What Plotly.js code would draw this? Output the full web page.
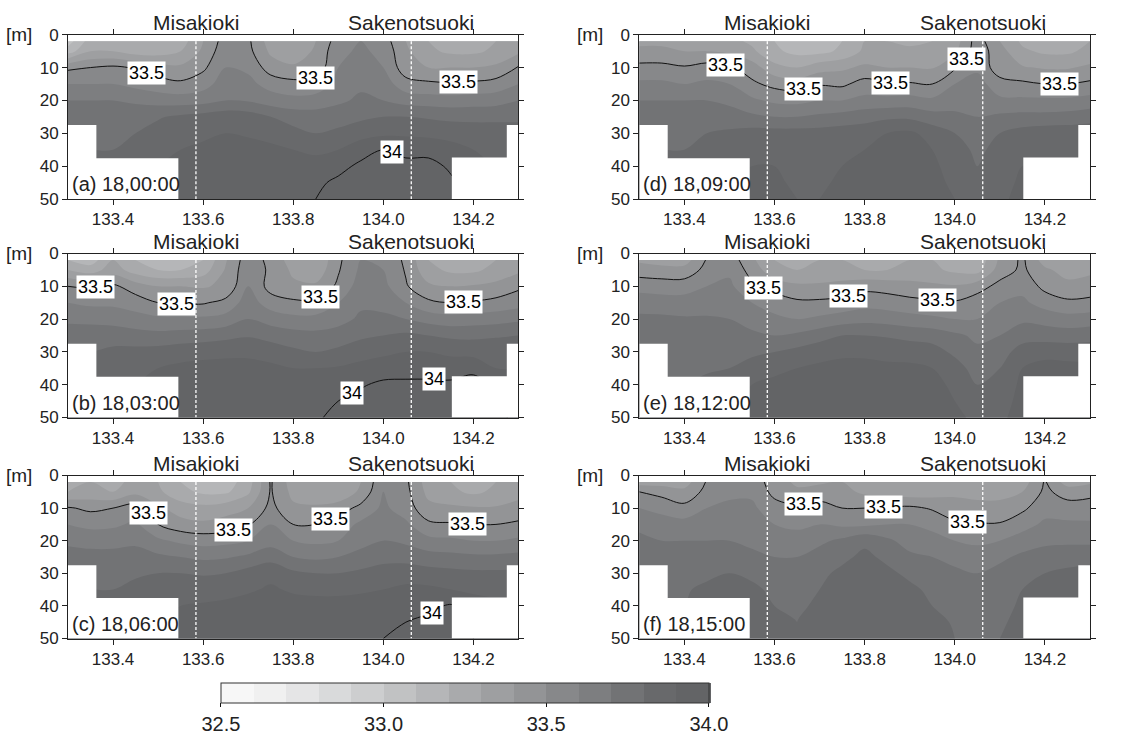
<!DOCTYPE html>
<html><head><meta charset="utf-8">
<script src="https://cdn.plot.ly/plotly-3.0.1.min.js"></script>
<style>html,body{margin:0;padding:0;background:#fff}#chart{width:1138px;height:738px}</style>
</head><body><div id="chart"></div>
<script>
// ---- data ----
const lon = [133.30,133.35,133.40,133.45,133.50,133.55,133.60,133.65,133.70,133.75,133.80,133.85,133.90,133.95,134.00,134.05,134.10,134.15,134.20,134.25,134.30];
const depth = [2,5,10,15,20,25,30,35,40,45,50];
const xTicks = [133.4,133.6,133.8,134.0,134.2];
const yTicks = [0,10,20,30,40,50];
const colorTicks = [32.5,33.0,33.5,34.0];
const stationNames = ['Misakioki','Sakenotsuoki'];
const stationLon = [133.584, 134.062];
const bathyLon = [133.30,133.363,133.363,133.545,133.545,134.152,134.152,134.274,134.274,134.30];
const bathyDepth = [27.5,27.5,37.6,37.6,50,50,37.4,37.4,27.5,27.5];
const panelLabels = ['(a) 18,00:00','(b) 18,03:00','(c) 18,06:00','(d) 18,09:00','(e) 18,12:00','(f) 18,15:00'];
const lineLevels = [33.5, 34.0];

const salA = [
[33.05,33.25,33.25,33.2,33.2,33.25,33.4,33.55,33.52,33.35,33.3,33.4,33.55,33.6,33.55,33.4,33.3,33.25,33.25,33.3,33.35],
[33.15,33.3,33.3,33.25,33.25,33.3,33.42,33.57,33.53,33.38,33.32,33.42,33.57,33.62,33.57,33.42,33.32,33.28,33.28,33.32,33.38],
[33.48,33.5,33.52,33.49,33.45,33.42,33.48,33.6,33.58,33.45,33.42,33.43,33.6,33.65,33.6,33.44,33.4,33.4,33.4,33.42,33.51],
[33.6,33.6,33.6,33.57,33.54,33.52,33.56,33.65,33.63,33.56,33.53,33.54,33.63,33.68,33.65,33.54,33.52,33.51,33.52,33.54,33.6],
[33.7,33.7,33.7,33.68,33.66,33.65,33.66,33.7,33.69,33.65,33.63,33.64,33.68,33.72,33.7,33.66,33.65,33.64,33.65,33.66,33.7],
[33.76,33.76,33.76,33.77,33.79,33.82,33.84,33.86,33.85,33.8,33.76,33.75,33.76,33.78,33.8,33.8,33.79,33.78,33.78,33.78,33.78],
[33.78,33.78,33.78,33.8,33.84,33.87,33.88,33.9,33.89,33.87,33.83,33.8,33.82,33.86,33.88,33.88,33.87,33.85,33.84,33.84,33.84],
[33.8,33.8,33.8,33.84,33.88,33.9,33.92,33.93,33.93,33.92,33.9,33.88,33.9,33.96,34.0,33.98,33.98,33.95,33.9,33.88,33.88],
[33.82,33.82,33.84,33.88,33.9,33.92,33.93,33.94,33.94,33.94,33.93,33.94,33.97,34.02,34.05,34.02,34.02,33.99,33.95,33.9,33.9],
[33.84,33.84,33.86,33.9,33.92,33.93,33.94,33.95,33.95,33.96,33.96,33.98,34.02,34.06,34.08,34.06,34.04,34.01,33.97,33.92,33.92],
[33.85,33.85,33.88,33.9,33.92,33.94,33.95,33.96,33.96,33.97,33.98,34.0,34.04,34.08,34.1,34.08,34.06,34.03,33.98,33.93,33.93]];

const salB = [
[33.2,33.15,33.3,33.2,33.15,33.15,33.2,33.39,33.56,33.47,33.35,33.3,33.48,33.6,33.58,33.48,33.3,33.25,33.25,33.3,33.35],
[33.3,33.25,33.35,33.25,33.2,33.2,33.25,33.41,33.57,33.48,33.38,33.33,33.49,33.62,33.6,33.49,33.33,33.28,33.28,33.33,33.38],
[33.5,33.49,33.52,33.45,33.4,33.4,33.39,33.42,33.6,33.46,33.42,33.42,33.52,33.65,33.63,33.51,33.42,33.4,33.41,33.43,33.48],
[33.6,33.58,33.58,33.55,33.5,33.49,33.49,33.53,33.65,33.55,33.52,33.52,33.6,33.68,33.67,33.6,33.52,33.5,33.51,33.53,33.56],
[33.68,33.67,33.66,33.64,33.62,33.62,33.62,33.64,33.7,33.66,33.63,33.63,33.66,33.72,33.72,33.7,33.66,33.64,33.65,33.66,33.68],
[33.75,33.76,33.76,33.74,33.73,33.74,33.75,33.77,33.79,33.76,33.74,33.73,33.75,33.78,33.8,33.82,33.8,33.78,33.78,33.79,33.8],
[33.8,33.8,33.82,33.83,33.84,33.86,33.87,33.88,33.88,33.86,33.82,33.8,33.82,33.86,33.88,33.9,33.9,33.88,33.86,33.86,33.86],
[33.82,33.82,33.85,33.88,33.9,33.92,33.93,33.93,33.93,33.92,33.9,33.9,33.91,33.93,33.95,33.96,33.96,33.95,33.98,33.9,33.9],
[33.85,33.86,33.88,33.9,33.92,33.93,33.94,33.94,33.94,33.94,33.94,33.95,33.97,33.99,34.02,34.02,34.02,34.02,34.03,33.98,33.95],
[33.87,33.88,33.9,33.92,33.93,33.94,33.95,33.95,33.96,33.96,33.96,33.97,34.0,34.03,34.05,34.05,34.05,34.05,34.05,34.0,33.97],
[33.88,33.89,33.9,33.92,33.94,33.95,33.96,33.96,33.97,33.97,33.98,33.99,34.02,34.05,34.07,34.07,34.07,34.06,34.06,34.02,33.98]];

const salC = [
[33.25,33.3,33.25,33.35,33.3,33.2,33.15,33.15,33.25,33.51,33.35,33.3,33.3,33.4,33.58,33.52,33.35,33.3,33.25,33.3,33.35],
[33.3,33.33,33.3,33.37,33.32,33.23,33.18,33.18,33.28,33.51,33.37,33.32,33.32,33.42,33.6,33.53,33.37,33.32,33.28,33.32,33.37],
[33.51,33.48,33.5,33.55,33.42,33.35,33.33,33.36,33.4,33.53,33.42,33.42,33.45,33.53,33.62,33.55,33.43,33.42,33.41,33.41,33.43],
[33.6,33.57,33.58,33.62,33.5,33.44,33.42,33.44,33.49,33.6,33.5,33.5,33.55,33.62,33.66,33.62,33.52,33.51,33.5,33.5,33.52],
[33.68,33.67,33.67,33.68,33.62,33.58,33.56,33.57,33.6,33.66,33.6,33.58,33.6,33.66,33.7,33.68,33.63,33.62,33.6,33.6,33.62],
[33.74,33.73,33.73,33.74,33.72,33.7,33.68,33.69,33.72,33.76,33.7,33.68,33.7,33.74,33.77,33.76,33.74,33.73,33.72,33.72,33.73],
[33.78,33.78,33.78,33.79,33.8,33.8,33.79,33.8,33.84,33.88,33.82,33.8,33.8,33.82,33.84,33.86,33.84,33.83,33.82,33.82,33.82],
[33.8,33.8,33.8,33.82,33.85,33.86,33.86,33.87,33.89,33.91,33.89,33.88,33.88,33.89,33.9,33.92,33.92,33.9,33.88,33.88,33.88],
[33.82,33.82,33.83,33.85,33.88,33.9,33.91,33.92,33.93,33.93,33.93,33.93,33.93,33.93,33.94,33.96,33.98,34.01,33.95,33.92,33.92],
[33.84,33.84,33.85,33.88,33.9,33.92,33.93,33.94,33.95,33.95,33.95,33.95,33.95,33.96,33.97,34.0,34.02,34.03,33.98,33.94,33.94],
[33.85,33.85,33.87,33.9,33.92,33.93,33.94,33.95,33.96,33.96,33.96,33.96,33.97,33.98,34.0,34.03,34.04,34.05,34.0,33.95,33.95]];

const salD = [
[33.38,33.38,33.36,33.36,33.33,33.28,33.2,33.15,33.15,33.2,33.3,33.3,33.28,33.3,33.35,33.55,33.4,33.28,33.25,33.25,33.3],
[33.42,33.42,33.4,33.4,33.38,33.32,33.22,33.17,33.17,33.22,33.32,33.33,33.32,33.33,33.38,33.56,33.44,33.32,33.28,33.28,33.33],
[33.53,33.53,33.51,33.54,33.52,33.45,33.33,33.3,33.36,33.38,33.42,33.4,33.4,33.39,33.49,33.58,33.44,33.41,33.39,33.39,33.42],
[33.62,33.62,33.6,33.62,33.6,33.52,33.47,33.45,33.49,33.48,33.54,33.51,33.51,33.5,33.6,33.64,33.54,33.52,33.5,33.5,33.52],
[33.7,33.7,33.7,33.7,33.68,33.62,33.58,33.57,33.6,33.6,33.63,33.63,33.64,33.62,33.66,33.66,33.62,33.62,33.62,33.62,33.64],
[33.76,33.76,33.76,33.76,33.74,33.72,33.7,33.7,33.72,33.74,33.76,33.78,33.78,33.74,33.72,33.7,33.72,33.73,33.73,33.74,33.76],
[33.78,33.78,33.79,33.8,33.82,33.84,33.84,33.84,33.84,33.85,33.86,33.9,33.92,33.86,33.8,33.76,33.8,33.84,33.86,33.86,33.86],
[33.8,33.8,33.8,33.83,33.86,33.87,33.87,33.86,33.87,33.88,33.9,33.94,33.95,33.9,33.84,33.78,33.83,33.88,33.88,33.88,33.88],
[33.81,33.81,33.82,33.85,33.88,33.9,33.9,33.88,33.88,33.9,33.93,33.95,33.96,33.92,33.86,33.8,33.84,33.9,33.9,33.9,33.9],
[33.82,33.82,33.84,33.87,33.9,33.92,33.91,33.89,33.89,33.91,33.94,33.96,33.96,33.93,33.88,33.83,33.86,33.92,33.92,33.92,33.92],
[33.83,33.83,33.85,33.88,33.91,33.93,33.92,33.9,33.9,33.92,33.95,33.97,33.97,33.94,33.9,33.85,33.88,33.93,33.93,33.93,33.93]];

const salE = [
[33.38,33.35,33.35,33.51,33.56,33.42,33.3,33.28,33.3,33.3,33.28,33.28,33.3,33.3,33.25,33.22,33.42,33.52,33.35,33.32,33.35],
[33.45,33.44,33.44,33.53,33.58,33.46,33.33,33.3,33.32,33.32,33.3,33.3,33.32,33.32,33.28,33.26,33.45,33.52,33.42,33.36,33.38],
[33.56,33.55,33.55,33.6,33.62,33.52,33.46,33.42,33.42,33.44,33.47,33.46,33.44,33.42,33.41,33.46,33.53,33.57,33.47,33.43,33.44],
[33.66,33.65,33.65,33.66,33.67,33.6,33.56,33.52,33.52,33.53,33.56,33.55,33.53,33.52,33.51,33.55,33.6,33.62,33.56,33.52,33.53],
[33.72,33.72,33.71,33.71,33.7,33.66,33.62,33.6,33.62,33.65,33.67,33.66,33.64,33.62,33.6,33.6,33.64,33.68,33.66,33.64,33.65],
[33.76,33.76,33.75,33.74,33.73,33.72,33.7,33.72,33.76,33.8,33.8,33.79,33.77,33.76,33.72,33.68,33.7,33.76,33.76,33.75,33.76],
[33.78,33.78,33.78,33.77,33.76,33.78,33.8,33.83,33.86,33.88,33.88,33.87,33.86,33.84,33.78,33.72,33.76,33.84,33.86,33.86,33.86],
[33.79,33.79,33.79,33.79,33.8,33.84,33.88,33.9,33.92,33.93,33.93,33.92,33.92,33.9,33.84,33.76,33.8,33.9,33.94,33.93,33.92],
[33.8,33.8,33.8,33.82,33.85,33.9,33.92,33.93,33.95,33.96,33.96,33.96,33.95,33.93,33.88,33.8,33.84,33.92,33.95,33.94,33.93],
[33.81,33.81,33.82,33.85,33.88,33.92,33.94,33.95,33.96,33.97,33.97,33.97,33.96,33.95,33.9,33.85,33.86,33.93,33.95,33.95,33.94],
[33.82,33.82,33.84,33.87,33.9,33.93,33.95,33.96,33.97,33.98,33.98,33.98,33.97,33.96,33.92,33.88,33.88,33.94,33.96,33.96,33.95]];

const salF = [
[33.35,33.35,33.35,33.51,33.56,33.56,33.45,33.38,33.38,33.4,33.35,33.32,33.3,33.32,33.35,33.35,33.35,33.35,33.51,33.35,33.38],
[33.5,33.47,33.43,33.53,33.58,33.58,33.47,33.42,33.46,33.43,33.38,33.36,33.34,33.35,33.38,33.38,33.38,33.4,33.52,33.46,33.48],
[33.6,33.56,33.53,33.6,33.62,33.62,33.54,33.52,33.53,33.5,33.5,33.51,33.52,33.49,33.44,33.42,33.42,33.48,33.56,33.54,33.53],
[33.68,33.66,33.64,33.66,33.67,33.67,33.6,33.58,33.6,33.58,33.58,33.6,33.6,33.57,33.52,33.51,33.51,33.56,33.62,33.62,33.62],
[33.72,33.7,33.7,33.7,33.7,33.68,33.65,33.64,33.68,33.72,33.78,33.72,33.66,33.64,33.6,33.58,33.6,33.65,33.68,33.68,33.68],
[33.75,33.74,33.74,33.74,33.74,33.72,33.7,33.7,33.74,33.78,33.82,33.78,33.72,33.7,33.67,33.65,33.68,33.72,33.74,33.76,33.76],
[33.77,33.77,33.77,33.78,33.8,33.78,33.75,33.74,33.78,33.82,33.84,33.82,33.78,33.74,33.72,33.7,33.73,33.78,33.8,33.82,33.84],
[33.78,33.78,33.79,33.82,33.84,33.82,33.78,33.77,33.8,33.84,33.86,33.85,33.82,33.78,33.75,33.73,33.76,33.8,33.82,33.86,33.9],
[33.79,33.79,33.8,33.83,33.85,33.84,33.8,33.78,33.82,33.85,33.87,33.87,33.85,33.8,33.77,33.75,33.78,33.81,33.84,33.86,33.88],
[33.8,33.8,33.81,33.84,33.86,33.85,33.81,33.8,33.83,33.86,33.88,33.88,33.87,33.83,33.79,33.76,33.79,33.82,33.84,33.86,33.86],
[33.8,33.8,33.82,33.84,33.86,33.86,33.82,33.8,33.84,33.87,33.88,33.89,33.88,33.85,33.8,33.77,33.8,33.82,33.84,33.86,33.86]];

// where each contour label sits along its line: [longitude, level]
const labelSpots = [
  [[133.475,33.5],[133.849,33.5],[134.167,33.5],[134.019,34.0]],
  [[133.36,33.5],[133.541,33.5],[133.86,33.5],[134.178,33.5],[134.112,34.0],[133.93,34.0]],
  [[133.478,33.5],[133.667,33.5],[133.882,33.5],[134.186,33.5],[134.108,34.0]],
  [[133.491,33.5],[133.665,33.5],[133.858,33.5],[134.025,33.5],[134.232,33.5]],
  [[133.576,33.5],[133.765,33.5],[133.961,33.5]],
  [[133.665,33.5],[133.841,33.5],[134.028,33.5]]
];

// ---- style ----
const FONT = '"Liberation Sans", Arial, Helvetica, sans-serif';
const INK = '#222';
const grays = ['#f7f7f7','#f7f7f7','#ececec','#e1e2e3','#d6d7d8','#cbcccd','#c0c1c2','#b4b5b7','#a9aaac','#9fa0a2','#949597','#898a8c','#808183','#767779','#6b6c6e','#636466','#636466'];
const colorscale = grays.map((c,k)=>[k/(grays.length-1), c]);

const panels = [salA, salB, salC, salD, salE, salF];
const xDom = [[0.05975,0.45562],[0.56178,0.95782]];
const yDom = [[0.73035,0.95298],[0.43428,0.65650],[0.13482,0.35569]];

// depth where the field first reaches `level` going down at longitude `x`
function crossingDepth(z, x, level){
  let i = 0;
  while(i < lon.length-2 && lon[i+1] < x) i++;
  const w = (x - lon[i])/(lon[i+1]-lon[i]);
  const col = z.map(r => r[i]*(1-w) + r[i+1]*w);
  for(let j=0;j<col.length-1;j++){
    const a = col[j]-level, b = col[j+1]-level;
    if(a === 0) return depth[j];
    if(a*b < 0) return depth[j] + (depth[j+1]-depth[j])*(a/(a-b));
  }
  return depth[0];
}

const data = [];
const layout = {
  width:1138, height:738, margin:{l:0,r:0,t:0,b:0},
  paper_bgcolor:'#fff', plot_bgcolor:'#fff',
  showlegend:false, hovermode:false,
  font:{family:FONT, size:16, color:INK},
  annotations:[]
};

const maskX = bathyLon.concat([bathyLon[bathyLon.length-1], bathyLon[0]]);
const maskY = bathyDepth.concat([depth[depth.length-1], depth[depth.length-1]]);

panels.forEach((z,i)=>{
  const n = i+1;
  const sfx = n===1 ? '' : String(n);
  const xa = 'x'+sfx, ya = 'y'+sfx;
  const col = i<3 ? 0 : 1, row = i%3;
  const fill = {
    type:'contour', x:lon, y:depth, z:z, xaxis:xa, yaxis:ya,
    autocontour:false, zauto:false, zmin:32.5, zmax:34.0,
    contours:{start:32.5, end:34.0, size:0.1, coloring:'fill', showlines:false},
    line:{width:0}, colorscale:colorscale, showscale:i===0, hoverinfo:'skip'
  };
  if(i===0){
    fill.colorbar = {
      orientation:'h', x:0.4085, xanchor:'center', y:1-683.3/738, yanchor:'top',
      len:0.429, lenmode:'fraction', thickness:20, thicknessmode:'pixels',
      xpad:0, ypad:0, outlinewidth:1, outlinecolor:'#333',
      tickmode:'array', tickvals:colorTicks, ticktext:colorTicks.map(v=>v.toFixed(1)),
      ticks:'outside', ticklen:4, tickcolor:'#111', tickwidth:1,
      tickfont:{family:FONT, size:20, color:INK}
    };
  }
  data.push(fill);
  data.push({
    type:'contour', x:lon, y:depth, z:z, xaxis:xa, yaxis:ya,
    autocontour:false,
    contours:{start:lineLevels[0], end:lineLevels[1], size:lineLevels[1]-lineLevels[0], coloring:'none', showlabels:false},
    line:{color:'#111', width:1}, showscale:false, hoverinfo:'skip'
  });
  data.push({
    type:'scatter', mode:'lines', x:maskX, y:maskY, xaxis:xa, yaxis:ya,
    fill:'toself', fillcolor:'#fff', line:{width:0, color:'#fff'}, hoverinfo:'skip'
  });
  stationLon.forEach(s=>{
    data.push({type:'scatter', mode:'lines', x:[s,s], y:[depth[0], depth[depth.length-1]],
      xaxis:xa, yaxis:ya, line:{color:'#fff', width:1.3, dash:'3px,2px'}, hoverinfo:'skip'});
  });
  layout['xaxis'+sfx] = {
    domain:xDom[col], anchor:ya, range:[133.3,134.3], tickvals:xTicks, tickformat:'.1f',
    ticks:'outside', ticklen:5, tickcolor:INK, showline:true, linecolor:INK, linewidth:1,
    mirror:'ticks', showgrid:false, zeroline:false, fixedrange:true,
    tickfont:{family:FONT, size:17, color:INK}
  };
  layout['yaxis'+sfx] = {
    domain:yDom[row], anchor:xa, range:[50,0], tickvals:yTicks,
    ticks:'outside', ticklen:5, tickcolor:INK, showline:true, linecolor:INK, linewidth:1,
    mirror:'ticks', showgrid:false, zeroline:false, fixedrange:true,
    tickfont:{family:FONT, size:17, color:INK}
  };
  stationNames.forEach((nm,k)=>{
    layout.annotations.push({text:nm, xref:xa, x:stationLon[k], yref:ya+' domain', y:1,
      xanchor:'center', yanchor:'bottom', yshift:-1, showarrow:false,
      font:{family:FONT, size:21, color:INK}});
  });
  labelSpots[i].forEach(([lx, lev])=>{
    layout.annotations.push({text:String(lev), xref:xa, x:lx, yref:ya, y:crossingDepth(z, lx, lev),
      xanchor:'center', yanchor:'middle', showarrow:false, bgcolor:'#fff', borderpad:1,
      font:{family:FONT, size:18, color:'#000'}});
  });
  layout.annotations.push({text:panelLabels[i], xref:xa+' domain', x:0.004, yref:ya+' domain', y:0.01,
    xanchor:'left', yanchor:'bottom', showarrow:false, font:{family:FONT, size:20, color:INK}});
  layout.annotations.push({text:'[m]', xref:'paper', x:(col===0?4:575)/1138, yref:ya+' domain', y:1,
    xanchor:'left', yanchor:'middle', showarrow:false, font:{family:FONT, size:19, color:INK}});
});

Plotly.newPlot('chart', data, layout, {staticPlot:true, displayModeBar:false});
</script>
</body></html>
